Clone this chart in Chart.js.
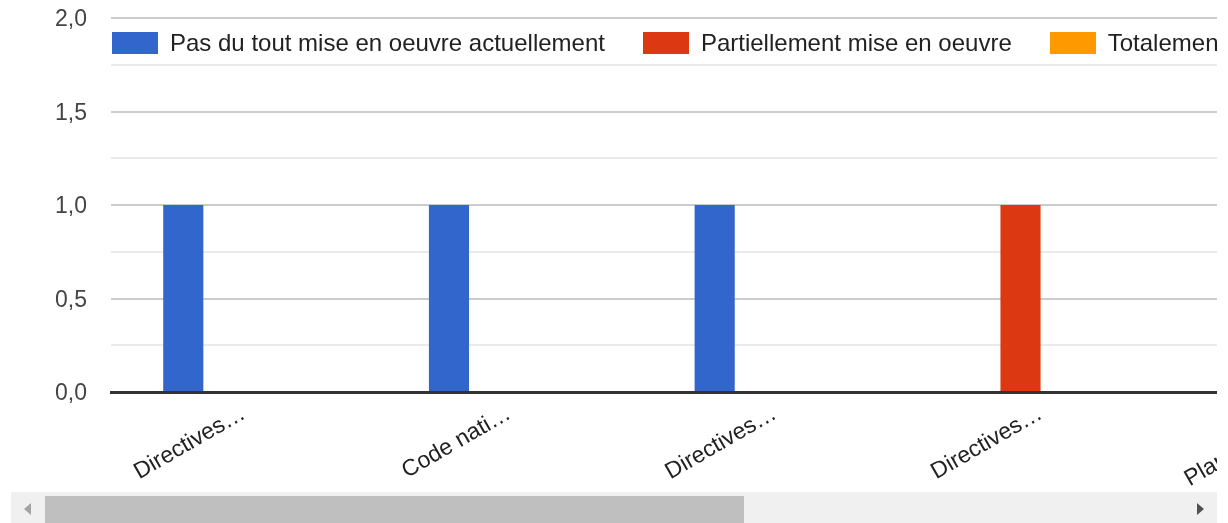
<!DOCTYPE html>
<html lang="fr">
<head>
<meta charset="utf-8">
<title>Mise en oeuvre</title>
<script src="https://cdn.jsdelivr.net/npm/chart.js@4/dist/chart.umd.min.js"></script>
<style>
	html, body {
		margin: 0;
		padding: 0;
		background: #fff;
		font-family: Arial, "Liberation Sans", sans-serif;
	}
	.chart-wrap {
		position: absolute;
		left: 0;
		top: 0;
		width: 1217px;
		height: 493px;
		overflow: hidden;
	}
	.chart-content {
		position: relative;
		width: 1985px;
		height: 493px;
	}
	.chart-legend {
		position: absolute;
		left: 112px;
		top: 32px;
		display: flex;
		white-space: nowrap;
	}
	.chart-legend__item {
		display: flex;
		align-items: center;
		margin-right: 38px;
		font-size: 24px;
		line-height: 22px;
		color: #222;
	}
	.chart-legend__box {
		width: 46px;
		height: 22px;
		margin-right: 12px;
	}
	.scrollbar {
		position: absolute;
		left: 11px;
		top: 492px;
		width: 1206px;
		height: 31px;
		background: #f0f0f0;
	}
	.scrollbar__thumb {
		position: absolute;
		left: 34px;
		top: 4px;
		width: 699px;
		height: 27px;
		background: #bfbfbf;
	}
	.scrollbar__arrow {
		position: absolute;
		top: 11px;
		width: 0;
		height: 0;
		border-top: 6px solid transparent;
		border-bottom: 6px solid transparent;
	}
	.scrollbar__arrow--left {
		left: 13px;
		border-right: 7px solid #a3a3a3;
	}
	.scrollbar__arrow--right {
		left: 1186px;
		border-left: 7px solid #505050;
	}
</style>
</head>
<body>

<div class="chart-wrap">
	<div class="chart-content">
		<canvas class="chart-bar" width="1985" height="493"></canvas>
		<div class="chart-legend"></div>
	</div>
</div>

<div class="scrollbar">
	<div class="scrollbar__arrow scrollbar__arrow--left"></div>
	<div class="scrollbar__thumb"></div>
	<div class="scrollbar__arrow scrollbar__arrow--right"></div>
</div>

<script>
// chart data

const categories = ['Directives…', 'Code nati…', 'Directives…', 'Directives…', 'Plan nation…', 'Stratégie…', 'Autres…'];
const seriesNames = ['Pas du tout mise en oeuvre actuellement', 'Partiellement mise en oeuvre', 'Totalement mise en oeuvre'];
const notImplemented = [1, 1, 1, 0, 0, 1, 0];
const partlyImplemented = [0, 0, 0, 1, 1, 0, 0];
const fullyImplemented = [0, 0, 0, 0, 0, 0, 1];
const yTicks = [0, 0.5, 1, 1.5, 2];
const seriesColors = ['#3366cc', '#dc3912', '#ff9900'];


document.addEventListener('DOMContentLoaded', () => {

	Chart.defaults.font.family = 'Arial, "Liberation Sans", sans-serif';
	Chart.defaults.font.size = 23;

	const toPoints = values => values.map((v, i) => ({ x: i, y: v }));
	const seriesValues = [notImplemented, partlyImplemented, fullyImplemented];

	const datasets = seriesValues.map((values, i) => ({
		label: seriesNames[i],
		data: toPoints(values),
		backgroundColor: seriesColors[i],
		borderWidth: 0,
		barPercentage: 1,
		categoryPercentage: 0.453
	}));

	// legend drawn as html so it can sit inside the plot like the original
	const legendElement = document.querySelector('.chart-legend');
	datasets.forEach(ds => {
		const item = document.createElement('div');
		item.className = 'chart-legend__item';
		item.innerHTML = `<span class="chart-legend__box" style="background:${ds.backgroundColor}"></span>${ds.label}`;
		legendElement.appendChild(item);
	});

	const isMajor = value => yTicks.includes(Math.round(value * 100) / 100);

	const chartBar = document.querySelector('.chart-bar');

	new Chart(chartBar, {
		type: 'bar',
		data: { datasets },
		options: {
			responsive: false,
			animation: false,
			layout: {
				padding: { top: 18, right: 55, left: 0, bottom: 0 }
			},
			scales: {
				x: {
					type: 'linear',
					bounds: 'data',
					offset: false,
					min: -0.423,
					max: categories.length - 1 + 0.423,
					z: 1,
					grid: { display: false },
					border: { color: '#333', width: 3 },
					afterBuildTicks: scale => {
						scale.ticks = categories.map((c, i) => ({ value: i }));
					},
					ticks: {
						autoSkip: false,
						minRotation: 30,
						maxRotation: 30,
						labelOffset: 20,
						padding: 0,
						color: '#222',
						callback: value => categories[value] ?? ''
					},
					afterFit: scale => {
						scale.height = 101;
						scale.paddingLeft = 0;
						scale.paddingRight = 0;
					}
				},
				y: {
					min: 0,
					max: 2,
					border: { display: false },
					grid: {
						drawTicks: false,
						lineWidth: 2,
						color: ctx => isMajor(ctx.tick.value) ? '#cccccc' : '#ebebeb'
					},
					ticks: {
						stepSize: 0.25,
						padding: 24,
						labelOffset: 2,
						color: '#444',
						callback: value => isMajor(value) ? value.toFixed(1).replace('.', ',') : ''
					},
					afterFit: scale => {
						scale.width = 111;
						scale.paddingTop = 0;
						scale.paddingBottom = 0;
					}
				}
			},
			plugins: {
				legend: false,
				tooltip: { enabled: false }
			}
		}
	});
});
</script>
</body>
</html>
